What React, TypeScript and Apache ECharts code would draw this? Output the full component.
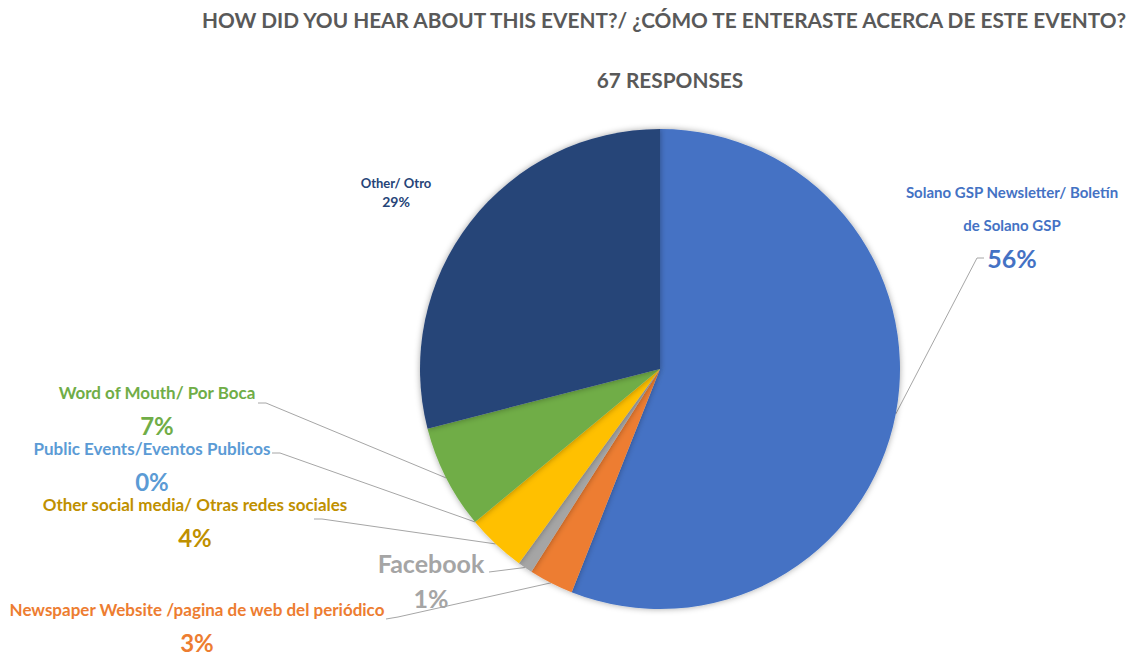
import React, { useEffect, useRef } from "react";
import * as echarts from "echarts";

const titleText = "HOW DID YOU HEAR ABOUT THIS EVENT?/ ¿CÓMO TE ENTERASTE ACERCA DE ESTE EVENTO?";
const subtitleText = "67 RESPONSES";

const categories = [
  "Solano GSP Newsletter/ Boletín\nde Solano GSP",
  "Newspaper Website /pagina de web del periódico",
  "Facebook",
  "Other social media/ Otras redes sociales",
  "Public Events/Eventos Publicos",
  "Word of Mouth/ Por Boca",
  "Other/ Otro",
];
const values = [56, 3, 1, 4, 0, 7, 29];
const sliceColors = ["#4472C4", "#ED7D31", "#A5A5A5", "#FFC000", "#5B9BD5", "#70AD47", "#264478"];
const labelColors = ["#4472C4", "#ED7D31", "#A5A5A5", "#BF9000", "#5B9BD5", "#70AD47", "#264478"];

// label layout (center x, center y) and line anchor for each slice
const labelPos = [
  { x: 1012, y: 225 },
  { x: 197, y: 620 },
  { x: 431, y: 580 },
  { x: 195, y: 515 },
  { x: 152, y: 459 },
  { x: 157, y: 403 },
  { x: 396, y: 192 },
];
const lineAnchors: (number[][] | null)[] = [
  [[984, 258], [977, 258]],
  [[386, 619], [398, 617]],
  [[489, 572]],
  [[314, 519], [322, 519]],
  [[272, 453], [280, 453]],
  [[258, 403], [266, 403]],
  null,
];
const nameSizes = [15, 17, 25, 17, 17, 17, 13];
const pctSizes = [25, 24, 25, 24, 24, 24, 14];
const nameLH = [33, 44, 35, 44, 44, 44, 19];
const pctLH = [33, 22, 35, 22, 22, 22, 19];

const FONT = "Lato, 'Open Sans', sans-serif";

export default function App() {
  const ref = useRef<HTMLDivElement>(null);
  useEffect(() => {
    const chart = echarts.init(ref.current!, null, { renderer: "svg" });
    const data = categories.map((name, i) => ({
      name,
      value: values[i],
      itemStyle: { color: sliceColors[i] },
      label: {
        rich: {
          n: {
            fontFamily: FONT,
            fontWeight: "bold",
            fontSize: nameSizes[i],
            color: labelColors[i],
            lineHeight: nameLH[i],
            align: "center",
          },
          p: {
            fontFamily: FONT,
            fontWeight: "bold",
            fontSize: pctSizes[i],
            color: labelColors[i],
            lineHeight: pctLH[i],
            align: "center",
          },
        },
      },
      labelLine: { show: lineAnchors[i] !== null },
    }));
    chart.setOption({
      animation: false,
      backgroundColor: "#ffffff",
      title: [
        {
          text: titleText,
          right: 0,
          top: 4,
          textStyle: { fontFamily: FONT, fontWeight: "bold", fontSize: 20.8, color: "#595959" },
        },
        {
          text: subtitleText,
          left: 665,
          top: 64,
          textAlign: "center",
          textStyle: { fontFamily: FONT, fontWeight: "bold", fontSize: 20.8, color: "#595959" },
        },
      ],
      series: [
        {
          type: "pie",
          center: [660, 369],
          radius: 240,
          startAngle: 90,
          clockwise: true,
          avoidLabelOverlap: false,
          data,
          itemStyle: { shadowBlur: 6, shadowColor: "rgba(0,0,0,0.35)", borderWidth: 0 },
          label: {
            show: true,
            position: "outer",
            formatter: (p: any) =>
              p.name
                .split("\n")
                .map((s: string) => `{n|${s}}`)
                .join("\n") + `\n{p|${p.value}%}`,
          },
          labelLine: { show: true, lineStyle: { color: "#A6A6A6", width: 1 } },
          labelLayout: (params: any) => {
            const i = params.dataIndex;
            const pos = labelPos[i];
            const res: any = { x: pos.x, y: pos.y, align: "center", verticalAlign: "middle" };
            const anchors = lineAnchors[i];
            if (anchors && params.labelLinePoints) {
              res.labelLinePoints = [params.labelLinePoints[0], ...anchors.slice().reverse()];
            }
            return res;
          },
          emphasis: { disabled: true },
        },
      ],
    });
    return () => chart.dispose();
  }, []);
  return (
    <div
      ref={ref}
      style={{ position: "absolute", left: 0, top: 0, width: 1136, height: 656 }}
    />
  );
}
